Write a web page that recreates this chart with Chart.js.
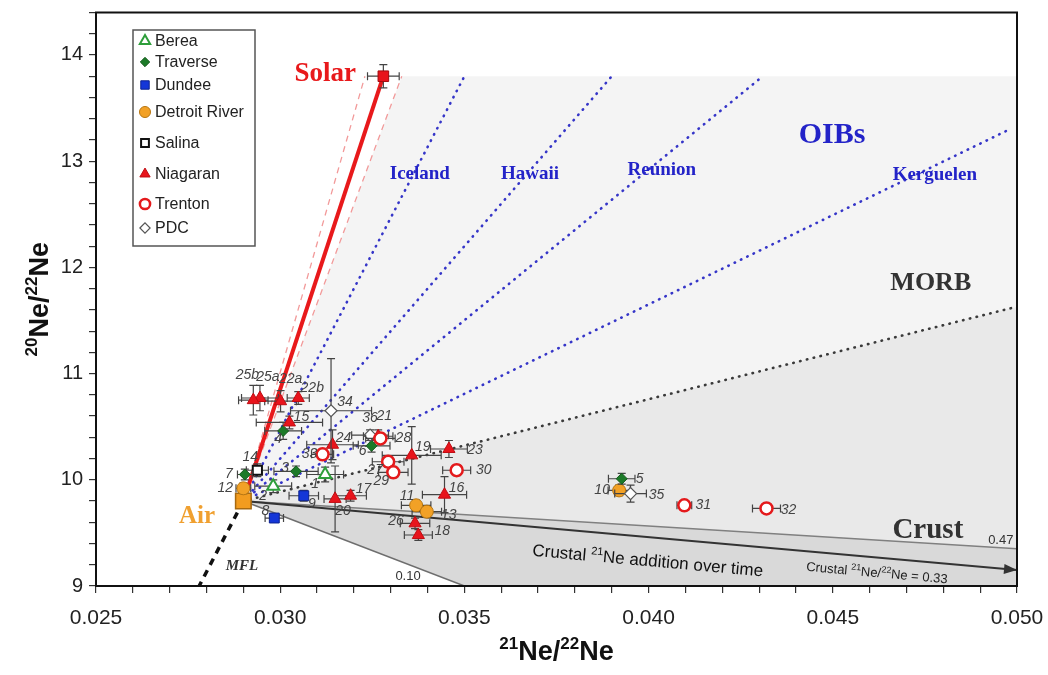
<!DOCTYPE html>
<html>
<head>
<meta charset="utf-8">
<title>Ne isotopes</title>
<script src="https://cdn.jsdelivr.net/npm/chart.js@4.4.1/dist/chart.umd.min.js"></script>
<style>
  html, body { margin: 0; padding: 0; background: #fff; }
  #wrap { width: 1048px; height: 675px; }
</style>
</head>
<body>
<div id="wrap"><canvas id="neChart" width="1048" height="675"></canvas></div>
<script>
// --- end members and reference lines (21Ne/22Ne, 20Ne/22Ne) ---
const airPoint = [0.0290, 9.80];
const solarPoint = [0.0328, 13.80];
const solarErr = [0.00043, 0.11];
const solarBandTopX = [0.0323, 0.0333];      // pink dashed envelope, at solar 20/22
const mixNames = ['Iceland', 'Hawaii', 'Reunion', 'Kerguelen', 'MORB'];
const mixEndX = [0.0350, 0.0390, 0.0431, 0.0498, 0.0500];
const mixEndY = [13.80, 13.80, 13.80, 13.30, 11.63];
const crustNames = ['0.10', '0.33', '0.47'];
const crustEndX = [0.0350, 0.0500, 0.0500];
const crustEndY = [9.00, 9.15, 9.35];
const mflEnd = [0.0278, 9.00];

// --- tick labels ---
const xTickLabels = ['0.025', '0.030', '0.035', '0.040', '0.045', '0.050'];
const yTickLabels = ['9', '10', '11', '12', '13', '14'];

// --- samples ---
const bereaIds = ['1', '2'];
const bereaX = [0.03122, 0.02981];
const bereaY = [10.05, 9.94];
const bereaXErr = [0.0005, 0.0005];
const bereaYErr = [0.07, 0.06];

const traverseIds = ['3', '4', '5', '6', '7'];
const traverseX = [0.03043, 0.03008, 0.03927, 0.03248, 0.02904];
const traverseY = [10.08, 10.46, 10.01, 10.32, 10.05];
const traverseXErr = [0.0006, 0.0005, 0.00036, 0.0005, 0.0002];
const traverseYErr = [0.05, 0.08, 0.05, 0.06, 0.05];

const dundeeIds = ['8', '9'];
const dundeeX = [0.02984, 0.03064];
const dundeeY = [9.64, 9.85];
const dundeeXErr = [0.00025, 0.0004];
const dundeeYErr = [0.04, 0.05];

const detroitIds = ['10', '11', '12', '13'];
const detroitX = [0.03920, 0.03369, 0.02900, 0.03398];
const detroitY = [9.90, 9.76, 9.92, 9.70];
const detroitXErr = [0.0003, 0.0004, 0.0002, 0.0004];
const detroitYErr = [0.05, 0.05, 0.05, 0.05];

const salinaIds = ['14'];
const salinaX = [0.02938];
const salinaY = [10.09];
const salinaXErr = [0.0003];
const salinaYErr = [0.06];

const niagaranIds = ['15', '16', '17', '18', '19', '20', '21', '22a', '22b', '23', '24', '25a', '25b', '26'];
const niagaranX = [0.03025, 0.03446, 0.03191, 0.03375, 0.03357, 0.03149, 0.03266, 0.03001, 0.03049, 0.03458, 0.03142, 0.02945, 0.02927, 0.03366];
const niagaranY = [10.54, 9.86, 9.85, 9.48, 10.23, 9.82, 10.41, 10.74, 10.77, 10.29, 10.33, 10.77, 10.75, 9.59];
const niagaranXErr = [0.0009, 0.0006, 0.00043, 0.00038, 0.0008, 0.0003, 0.0004, 0.00043, 0.0003, 0.0005, 0.0007, 0.0005, 0.0004, 0.0004];
const niagaranYErr = [0.06, 0.17, 0.05, 0.05, 0.27, 0.31, 0.06, 0.10, 0.06, 0.08, 0.14, 0.12, 0.14, 0.05];

const trentonIds = ['27', '28', '29', '30', '31', '32', '33'];
const trentonX = [0.03293, 0.03272, 0.03307, 0.03479, 0.04097, 0.04320, 0.03115];
const trentonY = [10.17, 10.39, 10.07, 10.09, 9.76, 9.73, 10.24];
const trentonXErr = [0.00043, 0.0004, 0.0004, 0.00038, 0.0002, 0.00038, 0.0003];
const trentonYErr = [0.05, 0.05, 0.05, 0.05, 0.04, 0.04, 0.05];

const pdcIds = ['34', '35', '36'];
const pdcX = [0.03138, 0.03951, 0.03244];
const pdcY = [10.65, 9.87, 10.42];
const pdcXErr = [0.0011, 0.00043, 0.0005];
const pdcYErr = [0.49, 0.08, 0.05];

// label placement next to each point (pixels)
const labelOffsets = {
    '1': [-10, 10], '2': [-10, 10], '3': [-11, -3], '4': [-5, 8], '5': [18, 0], '6': [-9, 5], '7': [-16, 0],
    '8': [-9, -7], '9': [8, 8], '10': [-17, 0], '11': [-9, -9], '12': [-18, 0], '13': [22, 3], '14': [-7, -13],
    '15': [12, -5], '16': [12, -7], '17': [13, -7], '18': [24, -4], '19': [11, -8], '20': [8, 12], '21': [6, -20],
    '22a': [10, -22], '22b': [14, -10], '23': [26, 1], '24': [11, -7], '25a': [8, -21], '25b': [-6, -25],
    '26': [-19, -2], '27': [-13, 8], '28': [23, 0], '29': [-12, 9], '30': [27, 0], '31': [19, 0], '32': [22, 2],
    '33': [-13, 0], '34': [14, -9], '35': [26, 2], '36': [0, -17]
};

function pts(xs, ys) {
    return xs.map((v, i) => ({ x: v, y: ys[i] }));
}

function sampleSet(label, ids, xs, ys, ex, ey, style) {
    return Object.assign({
        label: label,
        data: pts(xs, ys),
        ids: ids,
        xErr: ex,
        yErr: ey,
        isSample: true
    }, style);
}

function guide(x2, y2, color, width, dash, cap) {
    return {
        type: 'line',
        data: [{ x: airPoint[0], y: airPoint[1] }, { x: x2, y: y2 }],
        borderColor: color,
        borderWidth: width,
        borderDash: dash || [],
        borderCapStyle: cap || 'butt',
        pointRadius: 0,
        fill: false,
        showLine: true
    };
}

const datasets = [
    sampleSet('Trenton', trentonIds, trentonX, trentonY, trentonXErr, trentonYErr,
        { pointStyle: 'circle', pointRadius: 6, backgroundColor: '#ffffff', borderColor: '#e41a1c', pointBorderWidth: 2.5 }),
    sampleSet('PDC', pdcIds, pdcX, pdcY, pdcXErr, pdcYErr,
        { pointStyle: 'rectRot', pointRadius: 6, backgroundColor: '#ffffff', borderColor: '#555555', pointBorderWidth: 1.2 }),
    sampleSet('Niagaran', niagaranIds, niagaranX, niagaranY, niagaranXErr, niagaranYErr,
        { pointStyle: 'triangle', pointRadius: 7, backgroundColor: '#e8141c', borderColor: '#c00c12', pointBorderWidth: 1 }),
    sampleSet('Berea', bereaIds, bereaX, bereaY, bereaXErr, bereaYErr,
        { pointStyle: 'triangle', pointRadius: 7, backgroundColor: '#ffffff', borderColor: '#2e9e3a', pointBorderWidth: 2 }),
    sampleSet('Traverse', traverseIds, traverseX, traverseY, traverseXErr, traverseYErr,
        { pointStyle: 'rectRot', pointRadius: 5.5, backgroundColor: '#1c7a28', borderColor: '#145a1c', pointBorderWidth: 1 }),
    sampleSet('Dundee', dundeeIds, dundeeX, dundeeY, dundeeXErr, dundeeYErr,
        { pointStyle: 'rect', pointRadius: 7, backgroundColor: '#1436d8', borderColor: '#0c2290', pointBorderWidth: 1 }),
    sampleSet('Detroit River', detroitIds, detroitX, detroitY, detroitXErr, detroitYErr,
        { pointStyle: 'circle', pointRadius: 6.5, backgroundColor: '#f2a126', borderColor: '#b87712', pointBorderWidth: 1 }),
    sampleSet('Salina', salinaIds, salinaX, salinaY, salinaXErr, salinaYErr,
        { pointStyle: 'rect', pointRadius: 6.5, backgroundColor: '#ffffff', borderColor: '#111111', pointBorderWidth: 2 }),
    {
        label: 'Solar', data: pts([solarPoint[0]], [solarPoint[1]]), xErr: [solarErr[0]], yErr: [solarErr[1]],
        pointStyle: 'rect', pointRadius: 7.5, backgroundColor: '#e8141c', borderColor: '#a50a0e', pointBorderWidth: 1
    },
    {
        label: 'Air', data: pts([airPoint[0]], [airPoint[1]]),
        pointStyle: 'rect', pointRadius: 11, backgroundColor: '#f29c1f', borderColor: '#a86a10', pointBorderWidth: 1.5
    },
    // solar mixing line and its envelope
    guide(solarPoint[0], solarPoint[1], '#e8191b', 4),
    guide(solarBandTopX[0], solarPoint[1], '#f29a9a', 1.3, [6, 5]),
    guide(solarBandTopX[1], solarPoint[1], '#f29a9a', 1.3, [6, 5]),
    // OIB and MORB mixing lines
    guide(mixEndX[0], mixEndY[0], '#3535c8', 2.6, [0.5, 6.5], 'round'),
    guide(mixEndX[1], mixEndY[1], '#3535c8', 2.6, [0.5, 6.5], 'round'),
    guide(mixEndX[2], mixEndY[2], '#3535c8', 2.6, [0.5, 6.5], 'round'),
    guide(mixEndX[3], mixEndY[3], '#3535c8', 2.6, [0.5, 6.5], 'round'),
    guide(mixEndX[4], mixEndY[4], '#3a3a3a', 2.6, [0.5, 6.5], 'round'),
    // crustal addition lines
    guide(crustEndX[0], crustEndY[0], '#6e6e6e', 1.5),
    guide(crustEndX[1], crustEndY[1], '#333333', 2),
    guide(crustEndX[2], crustEndY[2], '#808080', 1.5),
    // mass fractionation line
    guide(mflEnd[0], mflEnd[1], '#111111', 3.5, [7, 6])
];

// shaded fields behind everything
const regionPlugin = {
    id: 'regions',
    beforeDatasetsDraw(chart) {
        const { ctx, chartArea, scales: { x, y } } = chart;
        const poly = (list, color) => {
            ctx.beginPath();
            list.forEach((p, i) => {
                const X = x.getPixelForValue(p[0]), Y = y.getPixelForValue(p[1]);
                if (i) ctx.lineTo(X, Y); else ctx.moveTo(X, Y);
            });
            ctx.closePath();
            ctx.fillStyle = color;
            ctx.fill();
        };
        ctx.save();
        ctx.beginPath();
        ctx.rect(chartArea.left, chartArea.top, chartArea.width, chartArea.height);
        ctx.clip();
        poly([airPoint, [solarBandTopX[1], solarPoint[1]], [x.max, solarPoint[1]], [mixEndX[4], mixEndY[4]]], '#f4f4f4');
        poly([airPoint, [mixEndX[4], mixEndY[4]], [crustEndX[2], crustEndY[2]]], '#e9e9e9');
        poly([airPoint, [crustEndX[2], crustEndY[2]], [x.max, y.min], [crustEndX[0], crustEndY[0]]], '#d9d9d9');
        ctx.restore();
    }
};

// error bars, drawn just before each marker set
const errorBarPlugin = {
    id: 'errorBars',
    beforeDatasetDraw(chart, args) {
        const ds = chart.data.datasets[args.index];
        if (!ds.xErr) return;
        const { ctx, scales: { x, y } } = chart;
        const cap = 4;
        ctx.save();
        ctx.strokeStyle = '#444';
        ctx.lineWidth = 1.2;
        ds.data.forEach((d, i) => {
            const cx = x.getPixelForValue(d.x), cy = y.getPixelForValue(d.y);
            const x0 = x.getPixelForValue(d.x - ds.xErr[i]), x1 = x.getPixelForValue(d.x + ds.xErr[i]);
            const y0 = y.getPixelForValue(d.y - ds.yErr[i]), y1 = y.getPixelForValue(d.y + ds.yErr[i]);
            ctx.beginPath();
            ctx.moveTo(x0, cy); ctx.lineTo(x1, cy);
            ctx.moveTo(x0, cy - cap); ctx.lineTo(x0, cy + cap);
            ctx.moveTo(x1, cy - cap); ctx.lineTo(x1, cy + cap);
            ctx.moveTo(cx, y0); ctx.lineTo(cx, y1);
            ctx.moveTo(cx - cap, y0); ctx.lineTo(cx + cap, y0);
            ctx.moveTo(cx - cap, y1); ctx.lineTo(cx + cap, y1);
            ctx.stroke();
        });
        ctx.restore();
    }
};

// text with superscript parts: parts = [[text, isSup], ...]
function richText(ctx, parts, cx, baseline, size, supSize, font) {
    let w = 0;
    parts.forEach(p => {
        ctx.font = font.replace('SIZE', (p[1] ? supSize : size) + 'px');
        w += ctx.measureText(p[0]).width;
    });
    let xx = cx - w / 2;
    ctx.textAlign = 'left';
    ctx.textBaseline = 'alphabetic';
    parts.forEach(p => {
        ctx.font = font.replace('SIZE', (p[1] ? supSize : size) + 'px');
        ctx.fillText(p[0], xx, p[1] ? baseline - size * 0.4 : baseline);
        xx += ctx.measureText(p[0]).width;
    });
}

const annotationPlugin = {
    id: 'annotations',
    afterDatasetsDraw(chart) {
        const { ctx, scales: { x, y } } = chart;
        const serif = '"Liberation Serif", "Times New Roman", serif';
        const sans = '"Liberation Sans", Arial, sans-serif';

        // arrow head on the 0.33 crustal line
        const ax = x.getPixelForValue(airPoint[0]), ay = y.getPixelForValue(airPoint[1]);
        const ex = x.getPixelForValue(crustEndX[1]), ey = y.getPixelForValue(crustEndY[1]);
        const ang = Math.atan2(ey - ay, ex - ax);
        ctx.save();
        ctx.translate(ex, ey);
        ctx.rotate(ang);
        ctx.fillStyle = '#333';
        ctx.beginPath();
        ctx.moveTo(0, 0); ctx.lineTo(-13, -5); ctx.lineTo(-13, 5); ctx.closePath();
        ctx.fill();
        ctx.restore();

        // sample numbers
        ctx.save();
        ctx.font = 'italic 14px ' + sans;
        ctx.fillStyle = '#444';
        ctx.textAlign = 'center';
        ctx.textBaseline = 'middle';
        chart.data.datasets.forEach((ds, di) => {
            if (!ds.isSample) return;
            chart.getDatasetMeta(di).data.forEach((el, i) => {
                const id = ds.ids[i];
                const off = labelOffsets[id] || [12, 0];
                ctx.fillText(id, el.x + off[0], el.y + off[1]);
            });
        });
        ctx.restore();

        const put = (txt, dx, dy, font, color, rot) => {
            ctx.save();
            ctx.translate(x.getPixelForValue(dx), y.getPixelForValue(dy));
            if (rot) ctx.rotate(rot * Math.PI / 180);
            ctx.font = font;
            ctx.fillStyle = color;
            ctx.textAlign = 'center';
            ctx.textBaseline = 'middle';
            ctx.fillText(txt, 0, 0);
            ctx.restore();
        };
        put('Solar', 0.03122, 13.82, 'bold 27px ' + serif, '#e8191b');
        put('Air', 0.02774, 9.65, 'bold 25px ' + serif, '#f0a030');
        put('Iceland', 0.03379, 12.88, 'bold 19px ' + serif, '#2323c8');
        put('Hawaii', 0.03678, 12.88, 'bold 19px ' + serif, '#2323c8');
        put('Reunion', 0.04036, 12.92, 'bold 19px ' + serif, '#2323c8');
        put('Kerguelen', 0.04777, 12.87, 'bold 19px ' + serif, '#2323c8');
        put('OIBs', 0.04498, 13.245, 'bold 30px ' + serif, '#2323c8');
        put('MORB', 0.04766, 11.85, 'bold 26px ' + serif, '#333333');
        put('Crust', 0.04758, 9.525, 'bold 29px ' + serif, '#333333');
        put('0.47', 0.04956, 9.431, '13px ' + sans, '#333333');
        put('0.10', 0.03347, 9.094, '13px ' + sans, '#333333');
        put('MFL', 0.02896, 9.187, 'italic bold 15px ' + serif, '#333333');

        // rotated captions along the crustal arrow
        ctx.save();
        ctx.fillStyle = '#111';
        ctx.translate(x.getPixelForValue(0.03998), y.getPixelForValue(9.244));
        ctx.rotate(ang);
        richText(ctx, [['Crustal ', false], ['21', true], ['Ne addition over time', false]], 0, 6, 17, 11, 'SIZE ' + sans);
        ctx.restore();
        ctx.save();
        ctx.fillStyle = '#222';
        ctx.translate(x.getPixelForValue(0.04620), y.getPixelForValue(9.131));
        ctx.rotate(ang);
        richText(ctx, [['Crustal ', false], ['21', true], ['Ne/', false], ['22', true], ['Ne = 0.33', false]], 0, 5, 13, 9, 'SIZE ' + sans);
        ctx.restore();
    }
};

const frameLegendPlugin = {
    id: 'frameLegend',
    afterDraw(chart) {
        const { ctx, chartArea: a } = chart;
        const sans = '"Liberation Sans", Arial, sans-serif';
        ctx.save();
        ctx.strokeStyle = '#111';
        ctx.lineWidth = 2;
        ctx.strokeRect(a.left, a.top, a.right - a.left, a.bottom - a.top);

        // legend box
        ctx.fillStyle = '#fff';
        ctx.fillRect(133, 30, 122, 216);
        ctx.strokeStyle = '#555';
        ctx.lineWidth = 1.5;
        ctx.strokeRect(133, 30, 122, 216);
        const order = ['Berea', 'Traverse', 'Dundee', 'Detroit River', 'Salina', 'Niagaran', 'Trenton', 'PDC'];
        const rowY = [41, 62, 85, 112, 143, 174, 204, 228];
        order.forEach((name, i) => {
            const ds = chart.data.datasets.find(d => d.label === name);
            ctx.fillStyle = ds.backgroundColor;
            ctx.strokeStyle = ds.borderColor;
            ctx.lineWidth = ds.pointBorderWidth;
            Chart.helpers.drawPoint(ctx, {
                pointStyle: ds.pointStyle,
                radius: ds.pointRadius * 0.85,
                rotation: 0,
                borderWidth: ds.pointBorderWidth
            }, 145, rowY[i]);
            ctx.fillStyle = '#222';
            ctx.font = '16px ' + sans;
            ctx.textAlign = 'left';
            ctx.textBaseline = 'middle';
            ctx.fillText(name, 155, rowY[i] + 1);
        });

        // axis titles
        ctx.fillStyle = '#111';
        richText(ctx, [['21', true], ['Ne/', false], ['22', true], ['Ne', false]],
            (a.left + a.right) / 2, 660, 27, 17, 'bold SIZE ' + sans);
        ctx.save();
        ctx.translate(48, (a.top + a.bottom) / 2);
        ctx.rotate(-Math.PI / 2);
        richText(ctx, [['20', true], ['Ne/', false], ['22', true], ['Ne', false]],
            0, 0, 27, 17, 'bold SIZE ' + sans);
        ctx.restore();
        ctx.restore();
    }
};

const xTickValues = [];
for (let k = 25; k <= 50; k++) xTickValues.push(k / 1000);
const yTickValues = [];
for (let k = 45; k <= 72; k++) yTickValues.push(k / 5);

new Chart(document.getElementById('neChart').getContext('2d'), {
    type: 'scatter',
    data: { datasets: datasets },
    plugins: [regionPlugin, errorBarPlugin, annotationPlugin, frameLegendPlugin],
    options: {
        responsive: false,
        animation: false,
        layout: { padding: { top: 10, right: 31, left: 0, bottom: 0 } },
        plugins: { legend: { display: false }, tooltip: { enabled: false } },
        scales: {
            x: {
                type: 'linear',
                min: 0.025,
                max: 0.050,
                afterBuildTicks: s => { s.ticks = xTickValues.map(v => ({ value: v })); },
                afterFit: s => { s.height = 89; s.paddingLeft = 0; s.paddingRight = 0; },
                ticks: {
                    autoSkip: false,
                    maxRotation: 0,
                    padding: 13,
                    color: '#222',
                    font: { family: '"Liberation Sans", Arial, sans-serif', size: 21 },
                    callback: v => {
                        const k = Math.round(v * 1000);
                        return k % 5 === 0 ? xTickLabels[(k - 25) / 5] : '';
                    }
                },
                grid: { drawOnChartArea: false, tickLength: 7, color: '#333', lineWidth: 1.2 },
                border: { display: true, color: '#111', width: 2 }
            },
            y: {
                type: 'linear',
                min: 9,
                max: 14.4,
                afterBuildTicks: s => { s.ticks = yTickValues.map(v => ({ value: v })); },
                afterFit: s => { s.width = 96; s.paddingTop = 0; s.paddingBottom = 0; },
                ticks: {
                    autoSkip: false,
                    padding: 6,
                    color: '#222',
                    font: { family: '"Liberation Sans", Arial, sans-serif', size: 20 },
                    callback: v => {
                        const k = Math.round(v * 5);
                        return k % 5 === 0 ? yTickLabels[k / 5 - 9] : '';
                    }
                },
                grid: { drawOnChartArea: false, tickLength: 7, color: '#333', lineWidth: 1.2 },
                border: { display: true, color: '#111', width: 2 }
            }
        }
    }
});
</script>
</body>
</html>
